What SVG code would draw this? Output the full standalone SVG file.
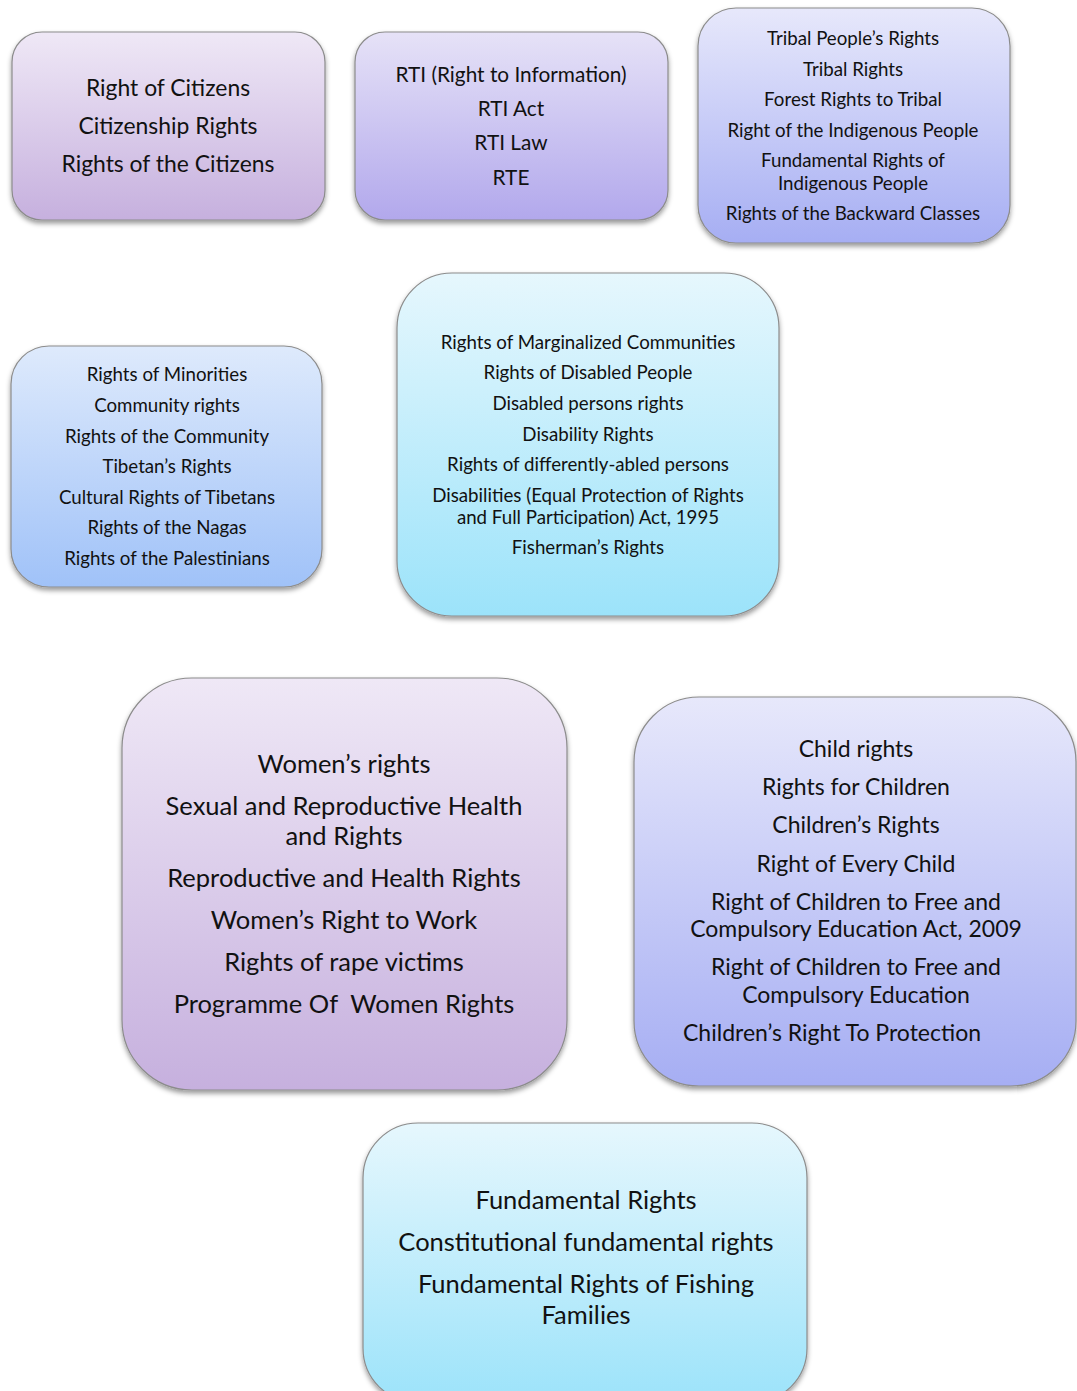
<svg xmlns="http://www.w3.org/2000/svg" width="1077" height="1391" viewBox="0 0 1077 1391">
  <defs>
    <linearGradient id="gPurple" x1="0" y1="0" x2="0" y2="1">
      <stop offset="0" stop-color="#efe8f6"/>
      <stop offset="1" stop-color="#c6b0de"/>
    </linearGradient>
    <linearGradient id="gViolet" x1="0" y1="0" x2="0" y2="1">
      <stop offset="0" stop-color="#e6e2f7"/>
      <stop offset="1" stop-color="#b2a8ec"/>
    </linearGradient>
    <linearGradient id="gLav" x1="0" y1="0" x2="0" y2="1">
      <stop offset="0" stop-color="#e7e8fb"/>
      <stop offset="1" stop-color="#a6aef3"/>
    </linearGradient>
    <linearGradient id="gBlue" x1="0" y1="0" x2="0" y2="1">
      <stop offset="0" stop-color="#deeafc"/>
      <stop offset="1" stop-color="#a0c2f8"/>
    </linearGradient>
    <linearGradient id="gCyan" x1="0" y1="0" x2="0" y2="1">
      <stop offset="0" stop-color="#e6f7fd"/>
      <stop offset="1" stop-color="#9ce3fa"/>
    </linearGradient>
    <filter id="shadow" x="-10%" y="-10%" width="120%" height="125%">
      <feDropShadow dx="0" dy="3" stdDeviation="2.5" flood-color="#000" flood-opacity="0.4"/>
    </filter>
  </defs>
  <style>
    .box { stroke: #8c8c8c; stroke-width: 1.2; filter: url(#shadow); }
    text { font-family: Lato, "Open Sans", "Liberation Sans", sans-serif; fill: #111; text-anchor: middle; white-space: pre; }
    .s18 { font-size: 18.7px; }
    .s20 { font-size: 20.8px; }
    .s22 { font-size: 22.9px; }
    .s23 { font-size: 23px; }
    .s25 { font-size: 25.5px; }
  </style>
  <rect width="1077" height="1391" fill="#fff"/>

  <g id="connectors"></g>

  <g id="citizens">
    <rect class="box" x="12" y="32" width="313" height="188" rx="30" fill="url(#gPurple)"/>
    <text class="s22" x="168" y="96">Right of Citizens</text>
    <text class="s22" x="168" y="134">Citizenship Rights</text>
    <text class="s22" x="168" y="172">Rights of the Citizens</text>
  </g>

  <g id="rti">
    <rect class="box" x="355" y="32" width="313" height="188" rx="30" fill="url(#gViolet)"/>
    <text class="s20" x="511" y="82">RTI (Right to Information)</text>
    <text class="s20" x="511" y="116">RTI Act</text>
    <text class="s20" x="511" y="150">RTI Law</text>
    <text class="s20" x="511" y="185">RTE</text>
  </g>

  <g id="tribal">
    <rect class="box" x="698" y="8" width="312" height="235" rx="38" fill="url(#gLav)"/>
    <text class="s18" x="853" y="45">Tribal People’s Rights</text>
    <text class="s18" x="853" y="76">Tribal Rights</text>
    <text class="s18" x="853" y="106">Forest Rights to Tribal</text>
    <text class="s18" x="853" y="137">Right of the Indigenous People</text>
    <text class="s18" x="853" y="167">Fundamental Rights of</text>
    <text class="s18" x="853" y="190">Indigenous People</text>
    <text class="s18" x="853" y="220">Rights of the Backward Classes</text>
  </g>

  <g id="minorities">
    <rect class="box" x="11" y="346" width="311" height="241" rx="38" fill="url(#gBlue)"/>
    <text class="s18" x="167" y="381">Rights of Minorities</text>
    <text class="s18" x="167" y="412">Community rights</text>
    <text class="s18" x="167" y="443">Rights of the Community</text>
    <text class="s18" x="167" y="473">Tibetan’s Rights</text>
    <text class="s18" x="167" y="504">Cultural Rights of Tibetans</text>
    <text class="s18" x="167" y="534">Rights of the Nagas</text>
    <text class="s18" x="167" y="565">Rights of the Palestinians</text>
  </g>

  <g id="marginalized">
    <rect class="box" x="397" y="273" width="382" height="343" rx="55" fill="url(#gCyan)"/>
    <text class="s18" x="588" y="349">Rights of Marginalized Communities</text>
    <text class="s18" x="588" y="379">Rights of Disabled People</text>
    <text class="s18" x="588" y="410">Disabled persons rights</text>
    <text class="s18" x="588" y="441">Disability Rights</text>
    <text class="s18" x="588" y="471">Rights of differently-abled persons</text>
    <text class="s18" x="588" y="502">Disabilities (Equal Protection of Rights</text>
    <text class="s18" x="588" y="524">and Full Participation) Act, 1995</text>
    <text class="s18" x="588" y="554">Fisherman’s Rights</text>
  </g>

  <g id="women">
    <rect class="box" x="122" y="678" width="445" height="412" rx="70" fill="url(#gPurple)"/>
    <text class="s25" x="344" y="773">Women’s rights</text>
    <text class="s25" x="344" y="815">Sexual and Reproductive Health</text>
    <text class="s25" x="344" y="845">and Rights</text>
    <text class="s25" x="344" y="887">Reproductive and Health Rights</text>
    <text class="s25" x="344" y="929">Women’s Right to Work</text>
    <text class="s25" x="344" y="971">Rights of rape victims</text>
    <text class="s25" x="344" y="1013">Programme Of  Women Rights</text>
  </g>

  <g id="children">
    <rect class="box" x="634" y="697" width="442" height="389" rx="65" fill="url(#gLav)"/>
    <text class="s23" x="856" y="757">Child rights</text>
    <text class="s23" x="856" y="795">Rights for Children</text>
    <text class="s23" x="856" y="833">Children’s Rights</text>
    <text class="s23" x="856" y="872">Right of Every Child</text>
    <text class="s23" x="856" y="910">Right of Children to Free and</text>
    <text class="s23" x="856" y="937">Compulsory Education Act, 2009</text>
    <text class="s23" x="856" y="975">Right of Children to Free and</text>
    <text class="s23" x="856" y="1003">Compulsory Education</text>
    <text class="s23" x="832" y="1041">Children’s Right To Protection</text>
  </g>

  <g id="fundamental">
    <rect class="box" x="363" y="1123" width="444" height="280" rx="55" fill="url(#gCyan)"/>
    <text class="s25" x="586" y="1209">Fundamental Rights</text>
    <text class="s25" x="586" y="1251">Constitutional fundamental rights</text>
    <text class="s25" x="586" y="1293">Fundamental Rights of Fishing</text>
    <text class="s25" x="586" y="1324">Families</text>
  </g>
</svg>
